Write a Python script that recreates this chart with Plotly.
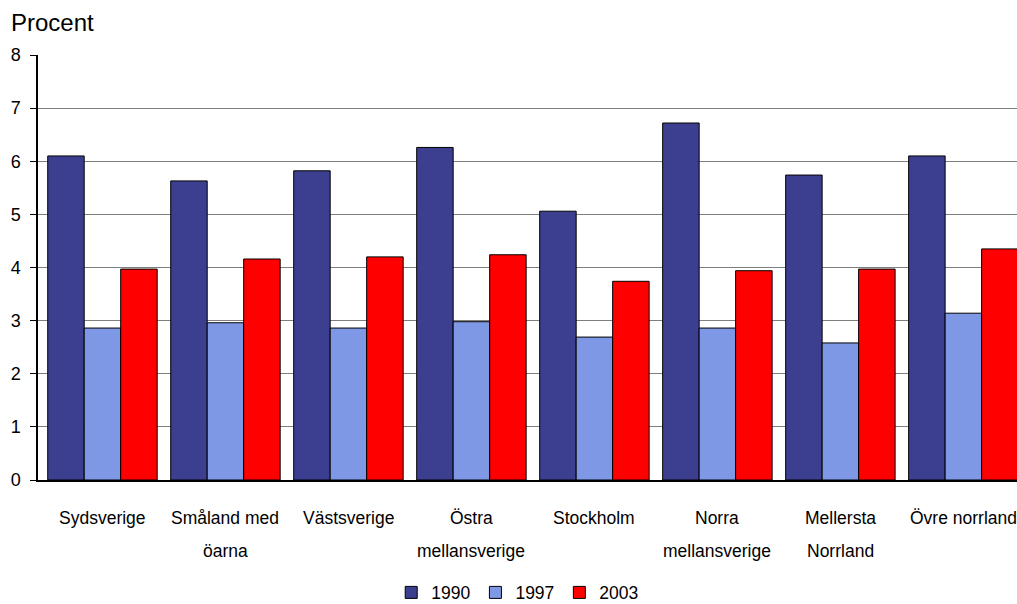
import plotly.graph_objects as go

regions = ["Sydsverige", "Småland med\nöarna", "Västsverige", "Östra\nmellansverige",
           "Stockholm", "Norra\nmellansverige", "Mellersta\nNorrland", "Övre norrland"]
years = ["1990", "1997", "2003"]
v1990 = [6.10, 5.63, 5.82, 6.26, 5.06, 6.72, 5.74, 6.10]
v1997 = [2.86, 2.96, 2.86, 2.98, 2.69, 2.86, 2.58, 3.14]
v2003 = [3.97, 4.16, 4.20, 4.24, 3.74, 3.94, 3.97, 4.35]
colors = ["#3c3f8f", "#7f98e6", "#ff0000"]
y_ticks = [0, 1, 2, 3, 4, 5, 6, 7, 8]

FONT = "Liberation Sans, Arial, sans-serif"
fig = go.Figure()
for name, vals, col in zip(years, [v1990, v1997, v2003], colors):
    fig.add_trace(go.Bar(
        x=list(range(len(regions))), y=vals, name=name,
        marker=dict(color=col, line=dict(color="black", width=1)),
    ))

# category labels, one annotation per line so the line spacing can be set
for i, lab in enumerate(regions):
    for j, line in enumerate(lab.split("\n")):
        fig.add_annotation(x=i, y=0, xref="x", yref="y", text=line, showarrow=False,
                           yanchor="middle", yshift=-38 - 33 * j,
                           font=dict(family=FONT, size=17.5, color="black"))

fig.add_annotation(x=0, y=1, xref="paper", yref="paper", text="Procent", showarrow=False,
                   xanchor="left", yanchor="bottom", xshift=-29, yshift=17,
                   font=dict(family=FONT, size=24, color="black"))

fig.update_layout(
    width=1017, height=604,
    margin=dict(l=38, r=0, t=55, b=124, autoexpand=False),
    plot_bgcolor="white", paper_bgcolor="white",
    barmode="group", bargap=0.11, bargroupgap=0,
    font=dict(family=FONT, size=17, color="black"),
    showlegend=True,
    legend=dict(orientation="h", x=0.49, xanchor="center",
                yref="container", y=0.019, yanchor="middle",
                font=dict(family=FONT, size=17.5), itemwidth=30, tracegroupgap=0),
    xaxis=dict(range=[-0.524, 7.436], showticklabels=False, ticks="", showline=True,
               linecolor="black", linewidth=1.5, showgrid=False, zeroline=False,
               fixedrange=True),
    yaxis=dict(range=[0, 8], tickvals=y_ticks, ticks="outside", ticklen=6,
               tickcolor="black", showline=True, linecolor="black", linewidth=1.5,
               showgrid=True, gridcolor="#7f7f7f", gridwidth=1, zeroline=False,
               tickfont=dict(family=FONT, size=18), ticklabelstandoff=6),
)
fig.write_html("out.html")
